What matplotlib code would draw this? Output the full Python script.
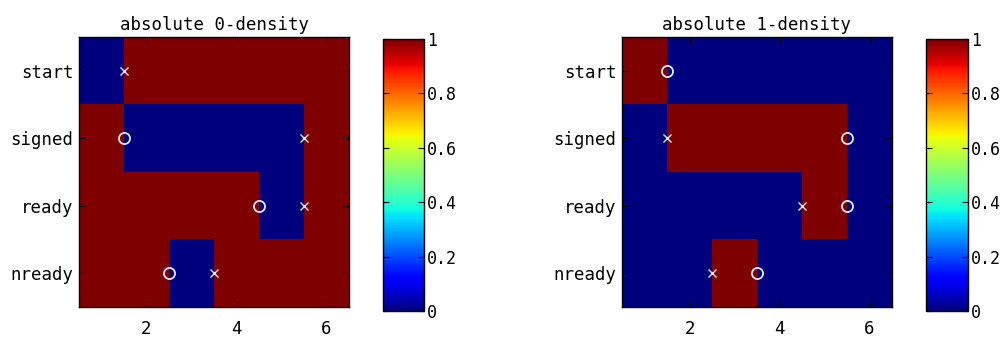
import matplotlib
matplotlib.use("Agg")
import matplotlib.pyplot as plt
import numpy as np

states = ["start", "signed", "ready", "nready"]
cols = [1, 2, 3, 4, 5, 6]

# absolute 0-density (rows = states, cols = positions)
dens0 = [
    [0, 1, 1, 1, 1, 1],
    [1, 0, 0, 0, 0, 1],
    [1, 1, 1, 1, 0, 1],
    [1, 1, 0, 1, 1, 1],
]
# absolute 1-density
dens1 = [
    [1, 0, 0, 0, 0, 0],
    [0, 1, 1, 1, 1, 0],
    [0, 0, 0, 0, 1, 0],
    [0, 0, 1, 0, 0, 0],
]

# markers: (x, row index)
cross0 = [(1.5, 0), (5.5, 1), (5.5, 2), (3.5, 3)]
circ0 = [(1.5, 1), (4.5, 2), (2.5, 3)]
cross1 = [(1.5, 1), (4.5, 2), (2.5, 3)]
circ1 = [(1.5, 0), (5.5, 1), (5.5, 2), (3.5, 3)]

cbar_ticks = [0, 0.2, 0.4, 0.6, 0.8, 1]

plt.rcParams["font.family"] = "DejaVu Sans Mono"

W, H = 1006, 338
fig = plt.figure(figsize=(W / 100, H / 100), dpi=100)


def rect(x0, y0, x1, y1):
    return [x0 / W, 1 - y1 / H, (x1 - x0) / W, (y1 - y0) / H]


panels = [
    ("absolute 0-density", dens0, cross0, circ0, rect(79, 37, 349, 307), rect(383, 39, 424, 311)),
    ("absolute 1-density", dens1, cross1, circ1, rect(622, 37, 892, 307), rect(926, 39, 968, 311)),
]

for title, dens, crosses, circs, arect, crect in panels:
    ax = fig.add_axes(arect)
    cax = fig.add_axes(crect)
    z = np.array(dens, dtype=float)
    im = ax.imshow(z, cmap="jet", vmin=0, vmax=1, aspect="auto",
                   extent=[cols[0] - 0.5, cols[-1] + 0.5, len(states) + 0.5, 0.5],
                   interpolation="nearest")
    ax.plot([c[0] for c in crosses], [c[1] + 1 for c in crosses], "x",
            color="#e8e8f8", ms=6, mew=1.0)
    ax.plot([c[0] for c in circs], [c[1] + 1 for c in circs], "o",
            mfc="none", mec="#e8e8f8", ms=8, mew=1.3)
    ax.set_xlim(cols[0] - 0.5, cols[-1] + 0.5)
    ax.set_ylim(len(states) + 0.5, 0.5)
    ax.set_xticks([2, 4, 6])
    ax.set_yticks(range(1, len(states) + 1))
    ax.set_yticklabels(states)
    ax.tick_params(direction="in", top=True, right=True, length=4, width=0.8,
                   labelsize=12.5)
    ax.tick_params(axis="x", pad=9)
    ax.tick_params(axis="y", pad=4)
    ax.set_title(title, fontsize=12.5, pad=5)
    for s in ax.spines.values():
        s.set_linewidth(1.0)

    cb = fig.colorbar(im, cax=cax, ticks=cbar_ticks)
    cb.ax.set_yticklabels(["0", "0.2", "0.4", "0.6", "0.8", "1"])
    cb.ax.tick_params(direction="in", left=True, right=True, length=4, width=0.8,
                      labelsize=12, pad=2)
    cb.outline.set_linewidth(1.0)

fig.savefig("out.png", dpi=100)
